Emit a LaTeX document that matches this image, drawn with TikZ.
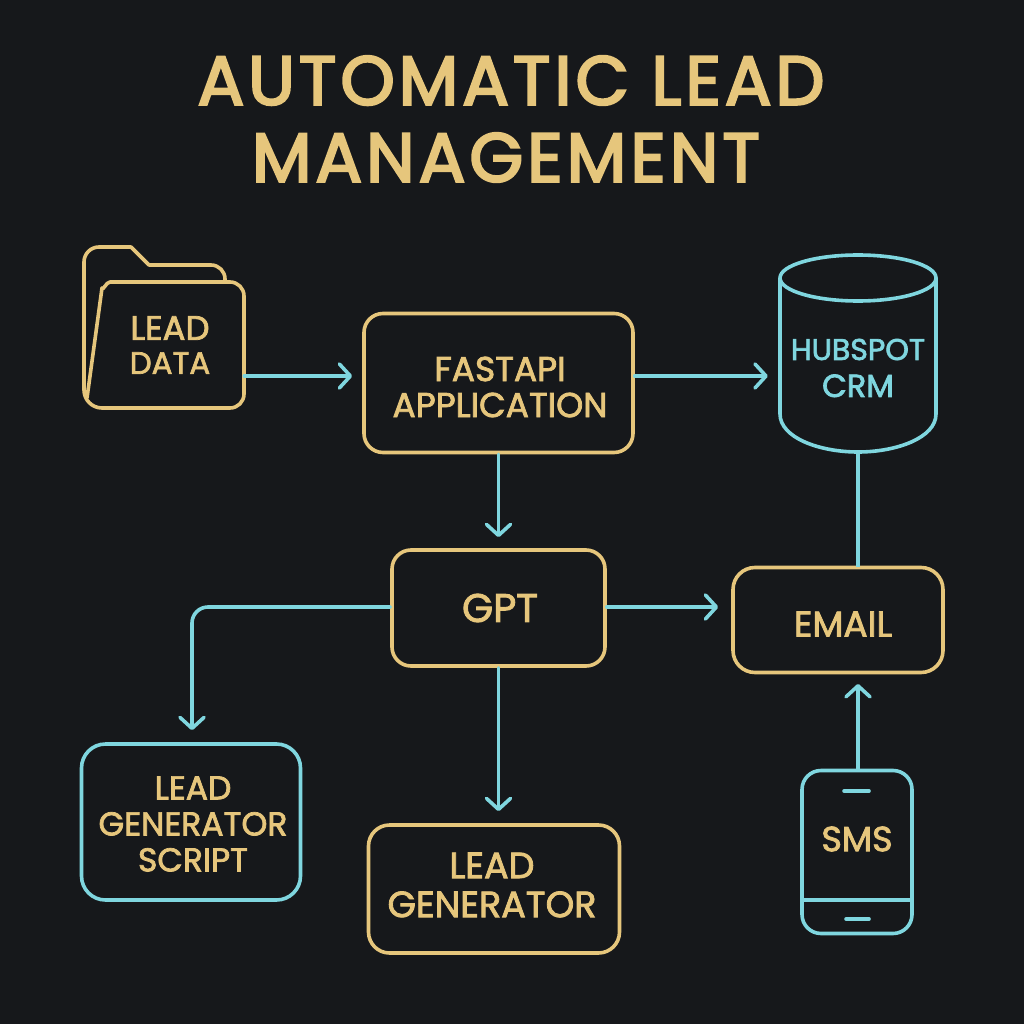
\documentclass[tikz,border=0pt]{standalone}
\usepackage{fontspec}
\setmainfont{Poppins}
\newfontfamily\medfont{Poppins}[FakeBold=2.2]
\newfontfamily\titlefont{Poppins}[FakeBold=3.4,LetterSpace=6]
\usetikzlibrary{arrows.meta,calc,positioning}
\definecolor{bgdark}{HTML}{16181B}
\definecolor{goldline}{HTML}{E6C67C}
\definecolor{tealline}{HTML}{7FD6DF}
\tikzset{%
	goldbox/.style  = {draw=goldline, line width=3.6pt, rectangle, rounded corners=19pt},
	tealbox/.style  = {goldbox, draw=tealline},
	label/.style    = {rectangle, text=goldline, align=center, inner sep=0pt},
	outline/.style  = {line width=3.6pt, line join=round},
	flow/.style     = {draw=tealline, line width=3.6pt, line cap=round, -{Straight Barb[length=11pt,width=24pt,line width=3.6pt,round]}},
	waypoint/.style = {coordinate},
}
\newcommand{\sized}[2]{\medfont\fontsize{#1}{#2}\selectfont}
\begin{document}
\begin{tikzpicture}[x=1pt,y=-1pt]
	\fill[bgdark] (0,0) rectangle (1024,1024);
	\useasboundingbox (0,0) rectangle (1024,1024);

	\node [label,font=\titlefont\fontsize{69}{77}\selectfont] (title) at (511,119) {AUTOMATIC LEAD\\MANAGEMENT\hspace*{10pt}};

	\node [goldbox,minimum width=269pt,minimum height=139pt] (fastapi) at (498.5,383) {};
	\node [goldbox,minimum width=213pt,minimum height=116pt] (gpt) [below of=fastapi,node distance=225pt] {};
	\node [goldbox,minimum width=251pt,minimum height=128pt,rounded corners=21pt] (leadgen) at (494,889) {};
	\node [tealbox,minimum width=219pt,minimum height=156pt,rounded corners=24pt] (script) at (191,822) {};
	\node [goldbox,minimum width=210pt,minimum height=105pt,rounded corners=22pt] (email) at (838,620) {};
	\node [tealbox,minimum width=110pt,minimum height=163pt,rounded corners=19pt] (sms) at (857,852) {};
	\node [minimum width=156pt,minimum height=126pt,inner sep=0pt] (leaddata) at (166,345) {};
	\node [minimum width=156pt,minimum height=197pt,inner sep=0pt] (hubspot) at (858,354) {};

	\node [label,font=\sized{34.5}{36}] (fastapitext) at (500,387) {FASTAPI\\APPLICATION};
	\node [label,font=\sized{40}{44}] (gpttext) at (500,608) {GPT};
	\node [label,font=\sized{36.5}{39}] (leadgentext) at (492,885) {LEAD\\GENERATOR};
	\node [label,font=\sized{33}{36}] (scripttext) at (193,824) {LEAD\\GENERATOR\\SCRIPT};
	\node [label,font=\sized{36}{40}] (emailtext) at (843,624) {EMAIL};
	\node [label,font=\sized{35}{40}] (smstext) at (857,839) {SMS};
	\node [label,font=\sized{34}{34}] (leaddatatext) at (170,345) {LEAD\\{\fontsize{31}{34}\selectfont DATA}};
	\node [label,text=tealline,font=\sized{30}{37}] (crmtext) at (858,368) {HUBSPOT\\{\fontsize{32}{37}\selectfont CRM}};

	% folder
	\draw[goldline,outline] (87,398) -- (102,288) to[out=-80,in=180] (110,282) -- (230,282) arc (-90:0:14) -- (244,394) arc (0:90:14) -- (102,408) arc (90:180:18) -- (84,262) arc (180:270:15) -- (131,247) -- (149,265) -- (211,265) arc (-90:0:14) -- (225,282);
	% cylinder
	\draw[tealline,outline] (780,278) arc (180:-180:78 and 23) -- cycle;
	\draw[tealline,outline] (780,278) -- (780,414) .. controls (780,438) and (820,452) .. (858,452) .. controls (896,452) and (936,438) .. (936,414) -- (936,278);
	% phone
	\draw[tealline,outline] (sms.west |- 0,900) -- (sms.east |- 0,900);
	\draw[tealline,outline,line cap=round] (844,791) -- (869,791);
	\draw[tealline,outline,line cap=round] (846,919) -- (869,919);

	\node [waypoint] (fastin) at (fastapi.west |- 0,376) {};
	\node [waypoint] (fastout) at (fastapi.east |- 0,376) {};
	\node [waypoint] (hubin) at (hubspot.west |- 0,376) {};
	\node [waypoint] (emailin) at (email.west |- 0,607) {};
	\node [waypoint] (gptout) at (gpt.west |- 0,607) {};
	\node [waypoint] (gptright) at (gpt.east |- 0,607) {};
	\node [waypoint] (emailtop) at (858,567) {};
	\node [waypoint] (emailbot) at (858,674) {};

	\draw[flow,shorten >=10pt] (leaddata.east |- 0,376) -- (fastin);
	\draw[flow,shorten >=12pt] (fastout) -- (hubin);
	\draw[flow,shorten >=11pt] (fastapi.south) -- (gpt.north);
	\draw[flow,shorten >=13pt] (gptright) -- (emailin);
	\draw[flow,shorten >=12pt,rounded corners=16pt] (gptout) -| ($(script.north)+(1,0)$);
	\draw[flow,shorten >=12pt] (gpt.south) -- (gpt.south |- leadgen.north);
	\draw[tealline,line width=3.6pt] (emailtop) -- (hubspot.south -| emailtop);
	\draw[flow,shorten >=10pt] (emailbot |- sms.north) -- (emailbot);
\end{tikzpicture}
\end{document}
